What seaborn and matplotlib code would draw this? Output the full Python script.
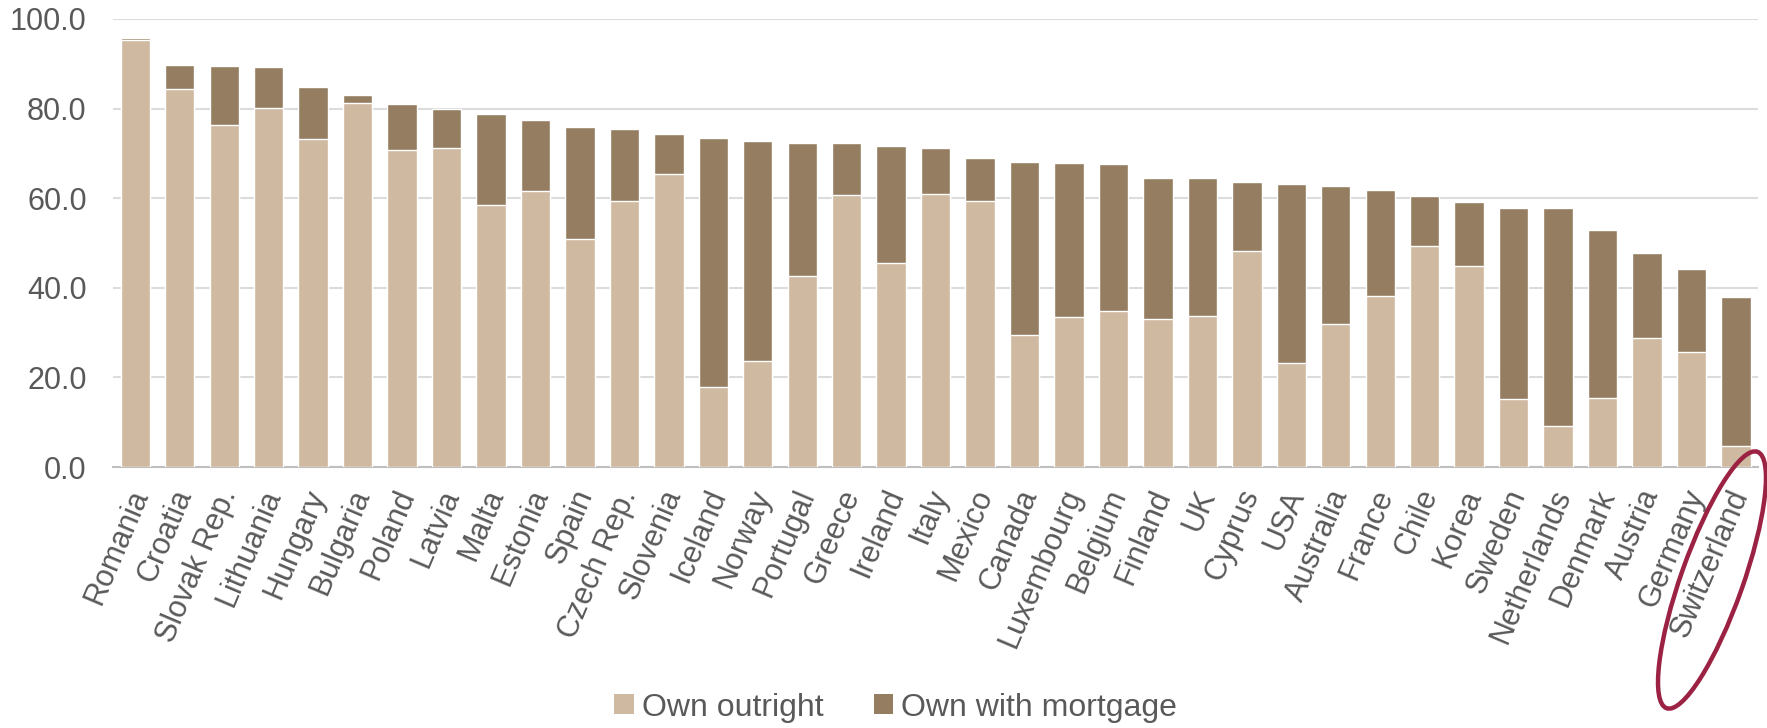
import matplotlib
matplotlib.use("Agg")
import matplotlib.pyplot as plt
from matplotlib.patches import Patch, Ellipse
from matplotlib.transforms import IdentityTransform, ScaledTranslation
import seaborn as sns

countries = ["Romania", "Croatia", "Slovak Rep.", "Lithuania", "Hungary", "Bulgaria",
             "Poland", "Latvia", "Malta", "Estonia", "Spain", "Czech Rep.", "Slovenia",
             "Iceland", "Norway", "Portugal", "Greece", "Ireland", "Italy", "Mexico",
             "Canada", "Luxembourg", "Belgium", "Finland", "UK", "Cyprus", "USA",
             "Australia", "France", "Chile", "Korea", "Sweden", "Netherlands",
             "Denmark", "Austria", "Germany", "Switzerland"]
own_outright = [95.2, 84.3, 76.4, 80.1, 73.3, 81.3, 70.7, 71.2, 58.4, 61.6, 50.9, 59.3,
                65.3, 17.8, 23.6, 42.7, 60.8, 45.5, 61.0, 59.3, 29.4, 33.4, 34.8, 33.1,
                33.7, 48.2, 23.2, 32.0, 38.1, 49.4, 44.8, 15.2, 9.2, 15.5, 28.7, 25.7, 4.7]
own_mortgage = [0.6, 5.4, 13.2, 9.2, 11.5, 1.8, 10.3, 8.6, 20.3, 15.9, 24.9, 16.1,
                9.1, 55.6, 49.1, 29.7, 11.5, 26.1, 10.3, 9.6, 38.7, 34.4, 32.9, 31.5,
                30.9, 15.4, 40.0, 30.8, 23.8, 11.0, 14.3, 42.5, 48.5, 37.4, 19.1, 18.4, 33.2]
y_ticks = [0, 20, 40, 60, 80, 100]
series_names = ["Own outright", "Own with mortgage"]

light = "#CFB9A0"
dark = "#957D61"
text_col = "#595959"

sns.set_theme(style="white")
plt.rcParams["font.family"] = ["Liberation Sans", "DejaVu Sans"]

fig = plt.figure(figsize=(17.67, 7.28), dpi=100)
ax = fig.add_axes([0.064, 0.3585, 0.931, 0.6155])

# stacked bars: full ownership height in the darker tone, outright share drawn over it
total = [a + b for a, b in zip(own_outright, own_mortgage)]
sns.barplot(x=countries, y=total, color=dark, saturation=1, width=0.66, ax=ax, zorder=2)
sns.barplot(x=countries, y=own_outright, color=light, saturation=1, width=0.66, ax=ax, zorder=3)

ax.set_ylim(0, 100)
ax.set_xlim(-0.5, len(countries) - 0.5)
ax.set_yticks(y_ticks)
ax.set_yticklabels([f"{v:.1f}" for v in y_ticks], fontsize=22, color=text_col)
ax.yaxis.grid(True, color="#DCDCDC", linewidth=1.5, zorder=0)
ax.set_axisbelow(True)
ax.tick_params(axis="y", length=0, pad=19)
ax.tick_params(axis="x", length=0, pad=17)
nudge = ScaledTranslation(5 / 100, 0, fig.dpi_scale_trans)
for lbl in ax.get_xticklabels():
    lbl.set_rotation(67)
    lbl.set_ha("right")
    lbl.set_va("center")
    lbl.set_rotation_mode("anchor")
    lbl.set_fontsize(22)
    lbl.set_color(text_col)
    lbl.set_transform(lbl.get_transform() + nudge)
for s in ["top", "right", "left"]:
    ax.spines[s].set_visible(False)
ax.spines["bottom"].set_color("#BFBFBF")
ax.spines["bottom"].set_linewidth(1.5)
ax.set_xlabel("")
ax.set_ylabel("")

handles = [Patch(facecolor=light, edgecolor="none"), Patch(facecolor=dark, edgecolor="none")]
fig.legend(handles, series_names, loc="center", bbox_to_anchor=(0.507, 0.028), ncol=2,
           frameon=False, fontsize=23, labelcolor=text_col, handlelength=0.6,
           handleheight=0.6, handletextpad=0.25, columnspacing=1.6)

# highlight ring around the last country label
ring = Ellipse((1712, 728 - 580), width=272, height=62, angle=70.5,
               transform=IdentityTransform(), fill=False, edgecolor="#9B2242",
               linewidth=3.2, clip_on=False)
fig.patches.append(ring)

fig.savefig("out.png", dpi=100)
